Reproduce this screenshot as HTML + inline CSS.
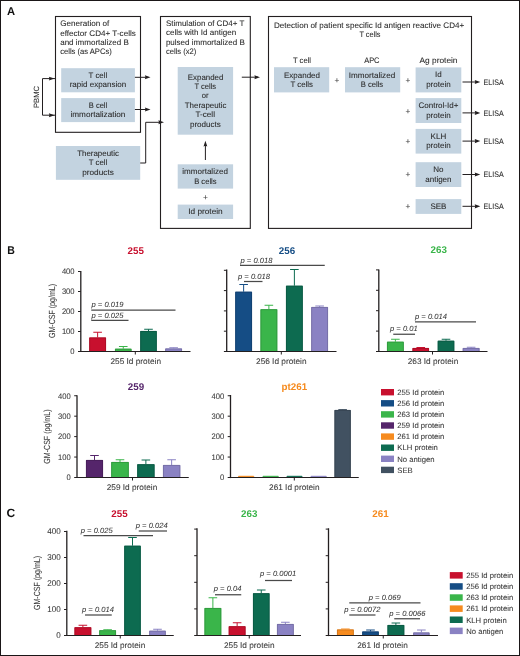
<!DOCTYPE html>
<html><head><meta charset="utf-8"><style>
html,body{margin:0;padding:0;background:#fff;}
body{width:520px;height:656px;overflow:hidden;}
.fig{position:absolute;left:0;top:0;width:518px;height:654px;border:1px solid #1a1617;}
svg{position:absolute;left:0;top:0;}
text{font-family:"Liberation Sans", sans-serif;}
svg{text-rendering:geometricPrecision;will-change:transform;}
</style></head><body>
<div class="fig"></div>
<svg width="520" height="656" viewBox="0 0 520 656" font-family='"Liberation Sans", sans-serif' fill='#2b2b2b'>
<text x="6.9" y="14.9" font-size="11.2" font-weight="bold" fill="#111">A</text>
<rect x="55.5" y="16.5" width="85.0" height="115.8" fill="none" stroke="#231f20" stroke-width="1.1"/>
<text x="60.2" y="26.4" font-size="8" stroke="#2b2b2b" stroke-width="0.08" textLength="49.0" lengthAdjust="spacingAndGlyphs">Generation of</text>
<text x="60.2" y="35.6" font-size="8" stroke="#2b2b2b" stroke-width="0.08" textLength="75.6" lengthAdjust="spacingAndGlyphs">effector CD4+ T-cells</text>
<text x="60.2" y="44.9" font-size="8" stroke="#2b2b2b" stroke-width="0.08" textLength="68.7" lengthAdjust="spacingAndGlyphs">and immortalized B</text>
<text x="60.2" y="54.1" font-size="8" stroke="#2b2b2b" stroke-width="0.08" textLength="51.6" lengthAdjust="spacingAndGlyphs">cells (as APCs)</text>
<rect x="61.2" y="68.2" width="73.7" height="24.1" fill="#c3d3e0"/>
<text x="88.6" y="78" font-size="8" stroke="#2b2b2b" stroke-width="0.08" textLength="18.6" lengthAdjust="spacingAndGlyphs">T cell</text>
<text x="69.7" y="87.2" font-size="8" stroke="#2b2b2b" stroke-width="0.08" textLength="56.5" lengthAdjust="spacingAndGlyphs">rapid expansion</text>
<rect x="61.2" y="98.1" width="73.7" height="24.0" fill="#c3d3e0"/>
<text x="88.8" y="108.2" font-size="8" stroke="#2b2b2b" stroke-width="0.08" textLength="18.4" lengthAdjust="spacingAndGlyphs">B cell</text>
<text x="70.5" y="117.2" font-size="8" stroke="#2b2b2b" stroke-width="0.08" textLength="54.9" lengthAdjust="spacingAndGlyphs">immortalization</text>
<line x1="134.9" y1="77.3" x2="147" y2="77.3" stroke="#231f20" stroke-width="1"/>
<path d="M150.5,77.3 L144.9,75.35 L145.5,77.3 L144.9,79.25 Z" fill="#231f20"/>
<line x1="134.9" y1="109.5" x2="147" y2="109.5" stroke="#231f20" stroke-width="1"/>
<path d="M150.5,109.5 L144.9,107.55 L145.5,109.5 L144.9,111.45 Z" fill="#231f20"/>
<path d="M55,78.6 L42.5,78.6 L42.5,115.2 L55,115.2" stroke="#231f20" stroke-width="1" fill="none"/>
<path d="M54.5,78.6 L48.9,76.65 L49.5,78.6 L48.9,80.55 Z" fill="#231f20"/>
<path d="M54.5,115.2 L48.9,113.25 L49.5,115.2 L48.9,117.15 Z" fill="#231f20"/>
<text x="0" y="0" font-size="7.6" text-anchor="middle" stroke="#2b2b2b" stroke-width="0.08" transform="translate(39.4,97) rotate(-90)" textLength="22" lengthAdjust="spacingAndGlyphs">PBMC</text>
<rect x="55.9" y="146" width="84.3" height="33.8" fill="#c3d3e0"/>
<text x="77.2" y="155.6" font-size="8" stroke="#2b2b2b" stroke-width="0.08" textLength="41.8" lengthAdjust="spacingAndGlyphs">Therapeutic</text>
<text x="88.7" y="165.1" font-size="8" stroke="#2b2b2b" stroke-width="0.08" textLength="18.6" lengthAdjust="spacingAndGlyphs">T cell</text>
<text x="82.2" y="174.6" font-size="8" stroke="#2b2b2b" stroke-width="0.08" textLength="31.6" lengthAdjust="spacingAndGlyphs">products</text>
<path d="M140.2,163 L145.7,163 L145.7,122.3 L161,122.3" stroke="#231f20" stroke-width="1" fill="none"/>
<path d="M164,122.3 L158.4,120.35 L159.0,122.3 L158.4,124.25 Z" fill="#231f20"/>
<rect x="160.5" y="16.5" width="89.8" height="211.9" fill="none" stroke="#231f20" stroke-width="1.1"/>
<text x="165.9" y="26.2" font-size="8" stroke="#2b2b2b" stroke-width="0.08" textLength="78.4" lengthAdjust="spacingAndGlyphs">Stimulation of CD4+ T</text>
<text x="165.9" y="35.4" font-size="8" stroke="#2b2b2b" stroke-width="0.08" textLength="70.3" lengthAdjust="spacingAndGlyphs">cells with Id antigen</text>
<text x="165.9" y="44.7" font-size="8" stroke="#2b2b2b" stroke-width="0.08" textLength="78.9" lengthAdjust="spacingAndGlyphs">pulsed immortalized B</text>
<text x="165.9" y="53.9" font-size="8" stroke="#2b2b2b" stroke-width="0.08" textLength="30.4" lengthAdjust="spacingAndGlyphs">cells (x2)</text>
<rect x="177.7" y="67" width="55.4" height="67.7" fill="#c3d3e0"/>
<text x="187.8" y="79.5" font-size="8" stroke="#2b2b2b" stroke-width="0.08" textLength="35.5" lengthAdjust="spacingAndGlyphs">Expanded</text>
<text x="194.4" y="89" font-size="8" stroke="#2b2b2b" stroke-width="0.08" textLength="21.7" lengthAdjust="spacingAndGlyphs">T cells</text>
<text x="201.8" y="98.3" font-size="8" stroke="#2b2b2b" stroke-width="0.08" textLength="6.8" lengthAdjust="spacingAndGlyphs">or</text>
<text x="184.8" y="107.9" font-size="8" stroke="#2b2b2b" stroke-width="0.08" textLength="41.7" lengthAdjust="spacingAndGlyphs">Therapeutic</text>
<text x="195.5" y="117.3" font-size="8" stroke="#2b2b2b" stroke-width="0.08" textLength="19.5" lengthAdjust="spacingAndGlyphs">T-cell</text>
<text x="189.9" y="126.8" font-size="8" stroke="#2b2b2b" stroke-width="0.08" textLength="31.0" lengthAdjust="spacingAndGlyphs">products</text>
<line x1="205.4" y1="160" x2="205.4" y2="145" stroke="#231f20" stroke-width="1"/>
<path d="M205.4,140.8 L203.5,146.4 L205.4,145.8 L207.3,146.4 Z" fill="#231f20"/>
<rect x="177.7" y="164.3" width="55.4" height="24.3" fill="#c3d3e0"/>
<text x="182.3" y="173.9" font-size="8" stroke="#2b2b2b" stroke-width="0.08" textLength="45.6" lengthAdjust="spacingAndGlyphs">immortalized</text>
<text x="194.2" y="183.5" font-size="8" stroke="#2b2b2b" stroke-width="0.08" textLength="22.4" lengthAdjust="spacingAndGlyphs">B cells</text>
<text x="205.4" y="199.5" font-size="8.3" text-anchor="middle" fill="#444" stroke="#444" stroke-width="0.08">+</text>
<rect x="177.7" y="204.6" width="55.4" height="14.4" fill="#c3d3e0"/>
<text x="188.2" y="213.8" font-size="8" stroke="#2b2b2b" stroke-width="0.08" textLength="34.5" lengthAdjust="spacingAndGlyphs">Id protein</text>
<line x1="241.8" y1="77.2" x2="258" y2="77.2" stroke="#231f20" stroke-width="1"/>
<path d="M260,77.2 L254.4,75.25 L255.0,77.2 L254.4,79.15 Z" fill="#231f20"/>
<rect x="268.5" y="16.5" width="203.0" height="211.9" fill="none" stroke="#231f20" stroke-width="1.1"/>
<text x="274" y="28" font-size="8" stroke="#2b2b2b" stroke-width="0.08" textLength="190.2" lengthAdjust="spacingAndGlyphs">Detection of patient specific Id antigen reactive CD4+</text>
<text x="359.4" y="37.3" font-size="8" stroke="#2b2b2b" stroke-width="0.08" textLength="21.1" lengthAdjust="spacingAndGlyphs">T cells</text>
<text x="293" y="62.5" font-size="8" stroke="#2b2b2b" stroke-width="0.08" textLength="18" lengthAdjust="spacingAndGlyphs">T cell</text>
<text x="364.2" y="62.7" font-size="8" stroke="#2b2b2b" stroke-width="0.08" textLength="15.3" lengthAdjust="spacingAndGlyphs">APC</text>
<text x="419.5" y="62.7" font-size="8" stroke="#2b2b2b" stroke-width="0.08" textLength="38.0" lengthAdjust="spacingAndGlyphs">Ag protein</text>
<rect x="274" y="67.2" width="55.2" height="25.2" fill="#c3d3e0"/>
<text x="284" y="77.7" font-size="8" stroke="#2b2b2b" stroke-width="0.08" textLength="36" lengthAdjust="spacingAndGlyphs">Expanded</text>
<text x="290.4" y="87.2" font-size="8" stroke="#2b2b2b" stroke-width="0.08" textLength="22.6" lengthAdjust="spacingAndGlyphs">T cells</text>
<text x="337" y="82.8" font-size="8.3" text-anchor="middle" fill="#444" stroke="#444" stroke-width="0.08">+</text>
<rect x="345" y="67.2" width="55.2" height="25.2" fill="#c3d3e0"/>
<text x="348.7" y="77.8" font-size="8" stroke="#2b2b2b" stroke-width="0.08" textLength="46.5" lengthAdjust="spacingAndGlyphs">Immortalized</text>
<text x="360.7" y="86.9" font-size="8" stroke="#2b2b2b" stroke-width="0.08" textLength="22.5" lengthAdjust="spacingAndGlyphs">B cells</text>
<rect x="415.6" y="67.4" width="45.7" height="25.0" fill="#c3d3e0"/>
<text x="438.4" y="77.3" font-size="8" text-anchor="middle" stroke="#2b2b2b" stroke-width="0.08">Id</text>
<text x="438.4" y="87.1" font-size="8" text-anchor="middle" stroke="#2b2b2b" stroke-width="0.08">protein</text>
<text x="408" y="82.80000000000001" font-size="8.3" text-anchor="middle" fill="#444" stroke="#444" stroke-width="0.08">+</text>
<line x1="462.5" y1="82.0" x2="477" y2="82.0" stroke="#231f20" stroke-width="1"/>
<path d="M480.3,82.0 L474.7,79.9 L475.3,82.0 L474.7,84.1 Z" fill="#231f20"/>
<text x="483.6" y="84.7" font-size="8" stroke="#2b2b2b" stroke-width="0.08" textLength="20.1" lengthAdjust="spacingAndGlyphs">ELISA</text>
<rect x="415.6" y="98.1" width="45.7" height="24.9" fill="#c3d3e0"/>
<text x="438.4" y="107.8" font-size="8" text-anchor="middle" stroke="#2b2b2b" stroke-width="0.08">Control-Id+</text>
<text x="438.4" y="117.5" font-size="8" text-anchor="middle" stroke="#2b2b2b" stroke-width="0.08">protein</text>
<text x="408" y="113.7" font-size="8.3" text-anchor="middle" fill="#444" stroke="#444" stroke-width="0.08">+</text>
<line x1="462.5" y1="112.9" x2="477" y2="112.9" stroke="#231f20" stroke-width="1"/>
<path d="M480.3,112.9 L474.7,110.8 L475.3,112.9 L474.7,115.0 Z" fill="#231f20"/>
<text x="483.6" y="115.60000000000001" font-size="8" stroke="#2b2b2b" stroke-width="0.08" textLength="20.1" lengthAdjust="spacingAndGlyphs">ELISA</text>
<rect x="415.6" y="128.9" width="45.7" height="24.7" fill="#c3d3e0"/>
<text x="438.4" y="138.7" font-size="8" text-anchor="middle" stroke="#2b2b2b" stroke-width="0.08">KLH</text>
<text x="438.4" y="148.3" font-size="8" text-anchor="middle" stroke="#2b2b2b" stroke-width="0.08">protein</text>
<text x="408" y="144.0" font-size="8.3" text-anchor="middle" fill="#444" stroke="#444" stroke-width="0.08">+</text>
<line x1="462.5" y1="141.1" x2="477" y2="141.1" stroke="#231f20" stroke-width="1"/>
<path d="M480.3,141.1 L474.7,139.0 L475.3,141.1 L474.7,143.2 Z" fill="#231f20"/>
<text x="483.6" y="143.79999999999998" font-size="8" stroke="#2b2b2b" stroke-width="0.08" textLength="20.1" lengthAdjust="spacingAndGlyphs">ELISA</text>
<rect x="415.6" y="162.2" width="45.7" height="24.8" fill="#c3d3e0"/>
<text x="438.4" y="172.0" font-size="8" text-anchor="middle" stroke="#2b2b2b" stroke-width="0.08">No</text>
<text x="438.4" y="181.5" font-size="8" text-anchor="middle" stroke="#2b2b2b" stroke-width="0.08">antigen</text>
<text x="408" y="177.4" font-size="8.3" text-anchor="middle" fill="#444" stroke="#444" stroke-width="0.08">+</text>
<line x1="462.5" y1="174.5" x2="477" y2="174.5" stroke="#231f20" stroke-width="1"/>
<path d="M480.3,174.5 L474.7,172.4 L475.3,174.5 L474.7,176.6 Z" fill="#231f20"/>
<text x="483.6" y="177.2" font-size="8" stroke="#2b2b2b" stroke-width="0.08" textLength="20.1" lengthAdjust="spacingAndGlyphs">ELISA</text>
<rect x="415.6" y="199.1" width="45.7" height="14.8" fill="#c3d3e0"/>
<text x="438.4" y="209.0" font-size="8" text-anchor="middle" stroke="#2b2b2b" stroke-width="0.08">SEB</text>
<text x="408" y="209.20000000000002" font-size="8.3" text-anchor="middle" fill="#444" stroke="#444" stroke-width="0.08">+</text>
<line x1="462.5" y1="206.3" x2="477" y2="206.3" stroke="#231f20" stroke-width="1"/>
<path d="M480.3,206.3 L474.7,204.2 L475.3,206.3 L474.7,208.4 Z" fill="#231f20"/>
<text x="483.6" y="209.0" font-size="8" stroke="#2b2b2b" stroke-width="0.08" textLength="20.1" lengthAdjust="spacingAndGlyphs">ELISA</text>
<text x="7.2" y="253.6" font-size="11.3" font-weight="bold" fill="#111" textLength="7.6" lengthAdjust="spacingAndGlyphs">B</text>
<rect x="89.25" y="337.5" width="16.75" height="14.0" fill="#c8102e"/>
<path d="M89.65,351.5 V337.9 H105.6 V351.5" fill="none" stroke="#a40d25" stroke-width="0.8"/>
<line x1="97.625" y1="332.25" x2="97.625" y2="337.5" stroke="#c8102e" stroke-width="1"/>
<line x1="93.325" y1="332.25" x2="101.925" y2="332.25" stroke="#c8102e" stroke-width="1"/>
<rect x="115" y="348.75" width="16.5" height="2.75" fill="#3ab54a"/>
<path d="M115.4,351.5 V349.15 H131.1 V351.5" fill="none" stroke="#2f943c" stroke-width="0.8"/>
<line x1="123.25" y1="346.5" x2="123.25" y2="348.75" stroke="#3ab54a" stroke-width="1"/>
<line x1="118.95" y1="346.5" x2="127.55" y2="346.5" stroke="#3ab54a" stroke-width="1"/>
<rect x="140.25" y="331" width="16.5" height="20.5" fill="#0d6b50"/>
<path d="M140.65,351.5 V331.4 H156.35 V351.5" fill="none" stroke="#0a5741" stroke-width="0.8"/>
<line x1="148.5" y1="329.25" x2="148.5" y2="331" stroke="#0d6b50" stroke-width="1"/>
<line x1="144.2" y1="329.25" x2="152.8" y2="329.25" stroke="#0d6b50" stroke-width="1"/>
<rect x="165.25" y="348.5" width="16.75" height="3.0" fill="#8a82c3"/>
<path d="M165.65,351.5 V348.9 H181.6 V351.5" fill="none" stroke="#716a9f" stroke-width="0.8"/>
<line x1="173.625" y1="347.75" x2="173.625" y2="348.5" stroke="#8a82c3" stroke-width="1"/>
<line x1="169.325" y1="347.75" x2="177.925" y2="347.75" stroke="#8a82c3" stroke-width="1"/>
<line x1="80.8" y1="271.0" x2="80.8" y2="352.1" stroke="#231f20" stroke-width="1.3"/>
<line x1="80.2" y1="351.5" x2="190.5" y2="351.5" stroke="#231f20" stroke-width="1.2"/>
<line x1="78.0" y1="351.5" x2="80.8" y2="351.5" stroke="#231f20" stroke-width="1"/>
<text x="70.37" y="354.3" font-size="8.0" fill="#3a3a3a" stroke="#3a3a3a" stroke-width="0.08" textLength="4.23" lengthAdjust="spacingAndGlyphs">0</text>
<line x1="78.0" y1="331.5" x2="80.8" y2="331.5" stroke="#231f20" stroke-width="1"/>
<text x="61.9" y="334.3" font-size="8.0" fill="#3a3a3a" stroke="#3a3a3a" stroke-width="0.08" textLength="12.7" lengthAdjust="spacingAndGlyphs">100</text>
<line x1="78.0" y1="311.5" x2="80.8" y2="311.5" stroke="#231f20" stroke-width="1"/>
<text x="61.9" y="314.3" font-size="8.0" fill="#3a3a3a" stroke="#3a3a3a" stroke-width="0.08" textLength="12.7" lengthAdjust="spacingAndGlyphs">200</text>
<line x1="78.0" y1="291.5" x2="80.8" y2="291.5" stroke="#231f20" stroke-width="1"/>
<text x="61.9" y="294.3" font-size="8.0" fill="#3a3a3a" stroke="#3a3a3a" stroke-width="0.08" textLength="12.7" lengthAdjust="spacingAndGlyphs">300</text>
<line x1="78.0" y1="271.5" x2="80.8" y2="271.5" stroke="#231f20" stroke-width="1"/>
<text x="61.9" y="274.3" font-size="8.0" fill="#3a3a3a" stroke="#3a3a3a" stroke-width="0.08" textLength="12.7" lengthAdjust="spacingAndGlyphs">400</text>
<line x1="135.3" y1="351.5" x2="135.3" y2="354.5" stroke="#231f20" stroke-width="1"/>
<text x="135.8" y="253.5" font-size="9.8" text-anchor="middle" font-weight="bold" fill="#c8102e">255</text>
<text x="135.75" y="363.9" font-size="8.2" text-anchor="middle" fill="#3a3a3a" stroke="#3a3a3a" stroke-width="0.08" textLength="50.5" lengthAdjust="spacingAndGlyphs">255 Id protein</text>
<line x1="91.25" y1="310" x2="175.5" y2="310" stroke="#4a4a4a" stroke-width="1.25"/>
<text x="91.5" y="307" font-size="7.6" font-style="italic" fill="#333" stroke="#333" stroke-width="0.05">p = 0.019</text>
<line x1="91.25" y1="320.25" x2="128.5" y2="320.25" stroke="#4a4a4a" stroke-width="1.25"/>
<text x="91.5" y="317.5" font-size="7.6" font-style="italic" fill="#333" stroke="#333" stroke-width="0.05">p = 0.025</text>
<text x="0" y="0" font-size="8.8" text-anchor="middle" fill="#3a3a3a" stroke="#3a3a3a" stroke-width="0.08" transform="translate(54.5,311) rotate(-90)" textLength="54.2" lengthAdjust="spacingAndGlyphs">GM-CSF (pg/mL)</text>
<rect x="235.25" y="291.75" width="16.75" height="59.75" fill="#154d85"/>
<path d="M235.65,351.5 V292.15 H251.6 V351.5" fill="none" stroke="#113f6d" stroke-width="0.8"/>
<line x1="243.625" y1="284.5" x2="243.625" y2="291.75" stroke="#154d85" stroke-width="1"/>
<line x1="239.325" y1="284.5" x2="247.925" y2="284.5" stroke="#154d85" stroke-width="1"/>
<rect x="260.5" y="309.25" width="16.75" height="42.25" fill="#3ab54a"/>
<path d="M260.9,351.5 V309.65 H276.85 V351.5" fill="none" stroke="#2f943c" stroke-width="0.8"/>
<line x1="268.875" y1="305.25" x2="268.875" y2="309.25" stroke="#3ab54a" stroke-width="1"/>
<line x1="264.575" y1="305.25" x2="273.175" y2="305.25" stroke="#3ab54a" stroke-width="1"/>
<rect x="286" y="285.75" width="16.75" height="65.75" fill="#0d6b50"/>
<path d="M286.4,351.5 V286.15 H302.35 V351.5" fill="none" stroke="#0a5741" stroke-width="0.8"/>
<line x1="294.375" y1="269.5" x2="294.375" y2="285.75" stroke="#0d6b50" stroke-width="1"/>
<line x1="290.075" y1="269.5" x2="298.675" y2="269.5" stroke="#0d6b50" stroke-width="1"/>
<rect x="311.25" y="307" width="16.75" height="44.5" fill="#8a82c3"/>
<path d="M311.65,351.5 V307.4 H327.6 V351.5" fill="none" stroke="#716a9f" stroke-width="0.8"/>
<line x1="319.625" y1="306" x2="319.625" y2="307" stroke="#8a82c3" stroke-width="1"/>
<line x1="315.325" y1="306" x2="323.925" y2="306" stroke="#8a82c3" stroke-width="1"/>
<line x1="226.7" y1="269.5" x2="226.7" y2="352.1" stroke="#231f20" stroke-width="1.3"/>
<line x1="226.1" y1="351.5" x2="336.5" y2="351.5" stroke="#231f20" stroke-width="1.2"/>
<line x1="223.89999999999998" y1="351.5" x2="226.7" y2="351.5" stroke="#231f20" stroke-width="1"/>
<line x1="223.89999999999998" y1="331.2" x2="226.7" y2="331.2" stroke="#231f20" stroke-width="1"/>
<line x1="223.89999999999998" y1="310.9" x2="226.7" y2="310.9" stroke="#231f20" stroke-width="1"/>
<line x1="223.89999999999998" y1="290.6" x2="226.7" y2="290.6" stroke="#231f20" stroke-width="1"/>
<line x1="223.89999999999998" y1="270.3" x2="226.7" y2="270.3" stroke="#231f20" stroke-width="1"/>
<line x1="281.3" y1="351.5" x2="281.3" y2="354.5" stroke="#231f20" stroke-width="1"/>
<text x="287" y="253.5" font-size="9.8" text-anchor="middle" font-weight="bold" fill="#154d85">256</text>
<text x="281.3" y="364.3" font-size="8.2" text-anchor="middle" fill="#3a3a3a" stroke="#3a3a3a" stroke-width="0.08" textLength="50.5" lengthAdjust="spacingAndGlyphs">256 Id protein</text>
<line x1="240" y1="265.25" x2="324.75" y2="265.25" stroke="#4a4a4a" stroke-width="1.25"/>
<text x="240.5" y="262.5" font-size="7.6" font-style="italic" fill="#333" stroke="#333" stroke-width="0.05">p = 0.018</text>
<line x1="244" y1="281.5" x2="262.5" y2="281.5" stroke="#4a4a4a" stroke-width="1.25"/>
<text x="238" y="279" font-size="7.6" font-style="italic" fill="#333" stroke="#333" stroke-width="0.05">p = 0.018</text>
<rect x="387" y="341.75" width="16.75" height="9.75" fill="#3ab54a"/>
<path d="M387.4,351.5 V342.15 H403.35 V351.5" fill="none" stroke="#2f943c" stroke-width="0.8"/>
<line x1="395.375" y1="339.25" x2="395.375" y2="341.75" stroke="#3ab54a" stroke-width="1"/>
<line x1="391.075" y1="339.25" x2="399.675" y2="339.25" stroke="#3ab54a" stroke-width="1"/>
<rect x="412.5" y="348" width="16.5" height="3.5" fill="#c8102e"/>
<path d="M412.9,351.5 V348.4 H428.6 V351.5" fill="none" stroke="#a40d25" stroke-width="0.8"/>
<line x1="420.75" y1="347.5" x2="420.75" y2="348" stroke="#c8102e" stroke-width="1"/>
<line x1="416.45" y1="347.5" x2="425.05" y2="347.5" stroke="#c8102e" stroke-width="1"/>
<rect x="437.75" y="340.75" width="16.5" height="10.75" fill="#0d6b50"/>
<path d="M438.15,351.5 V341.15 H453.85 V351.5" fill="none" stroke="#0a5741" stroke-width="0.8"/>
<line x1="446.0" y1="339.25" x2="446.0" y2="340.75" stroke="#0d6b50" stroke-width="1"/>
<line x1="441.7" y1="339.25" x2="450.3" y2="339.25" stroke="#0d6b50" stroke-width="1"/>
<rect x="462.75" y="348" width="16.75" height="3.5" fill="#8a82c3"/>
<path d="M463.15,351.5 V348.4 H479.1 V351.5" fill="none" stroke="#716a9f" stroke-width="0.8"/>
<line x1="471.125" y1="347.25" x2="471.125" y2="348" stroke="#8a82c3" stroke-width="1"/>
<line x1="466.825" y1="347.25" x2="475.425" y2="347.25" stroke="#8a82c3" stroke-width="1"/>
<line x1="378.8" y1="269.5" x2="378.8" y2="352.1" stroke="#231f20" stroke-width="1.3"/>
<line x1="378.2" y1="351.5" x2="487.5" y2="351.5" stroke="#231f20" stroke-width="1.2"/>
<line x1="376.0" y1="351.5" x2="378.8" y2="351.5" stroke="#231f20" stroke-width="1"/>
<line x1="376.0" y1="331.1" x2="378.8" y2="331.1" stroke="#231f20" stroke-width="1"/>
<line x1="376.0" y1="310.7" x2="378.8" y2="310.7" stroke="#231f20" stroke-width="1"/>
<line x1="376.0" y1="290.3" x2="378.8" y2="290.3" stroke="#231f20" stroke-width="1"/>
<line x1="376.0" y1="269.9" x2="378.8" y2="269.9" stroke="#231f20" stroke-width="1"/>
<line x1="432.5" y1="351.5" x2="432.5" y2="354.5" stroke="#231f20" stroke-width="1"/>
<text x="438.75" y="253" font-size="9.8" text-anchor="middle" font-weight="bold" fill="#3ab54a">263</text>
<text x="433" y="364.3" font-size="8.2" text-anchor="middle" fill="#3a3a3a" stroke="#3a3a3a" stroke-width="0.08" textLength="50.5" lengthAdjust="spacingAndGlyphs">263 Id protein</text>
<line x1="415" y1="321.75" x2="476" y2="321.75" stroke="#4a4a4a" stroke-width="1.25"/>
<text x="415" y="318.75" font-size="7.6" font-style="italic" fill="#333" stroke="#333" stroke-width="0.05">p = 0.014</text>
<line x1="393.25" y1="334.25" x2="415" y2="334.25" stroke="#4a4a4a" stroke-width="1.25"/>
<text x="390" y="331.25" font-size="7.6" font-style="italic" fill="#333" stroke="#333" stroke-width="0.05">p = 0.01</text>
<rect x="86" y="460" width="17" height="17.5" fill="#55256b"/>
<path d="M86.4,477.5 V460.4 H102.6 V477.5" fill="none" stroke="#451e57" stroke-width="0.8"/>
<line x1="94.5" y1="455.5" x2="94.5" y2="460" stroke="#55256b" stroke-width="1"/>
<line x1="90.2" y1="455.5" x2="98.8" y2="455.5" stroke="#55256b" stroke-width="1"/>
<rect x="111.25" y="462" width="17.5" height="15.5" fill="#3ab54a"/>
<path d="M111.65,477.5 V462.4 H128.35 V477.5" fill="none" stroke="#2f943c" stroke-width="0.8"/>
<line x1="120.0" y1="459.75" x2="120.0" y2="462" stroke="#3ab54a" stroke-width="1"/>
<line x1="115.7" y1="459.75" x2="124.3" y2="459.75" stroke="#3ab54a" stroke-width="1"/>
<rect x="137.25" y="464.25" width="17.25" height="13.25" fill="#0d6b50"/>
<path d="M137.65,477.5 V464.65 H154.1 V477.5" fill="none" stroke="#0a5741" stroke-width="0.8"/>
<line x1="145.875" y1="460" x2="145.875" y2="464.25" stroke="#0d6b50" stroke-width="1"/>
<line x1="141.575" y1="460" x2="150.175" y2="460" stroke="#0d6b50" stroke-width="1"/>
<rect x="163" y="465" width="17.25" height="12.5" fill="#8a82c3"/>
<path d="M163.4,477.5 V465.4 H179.85 V477.5" fill="none" stroke="#716a9f" stroke-width="0.8"/>
<line x1="171.625" y1="459.75" x2="171.625" y2="465" stroke="#8a82c3" stroke-width="1"/>
<line x1="167.325" y1="459.75" x2="175.925" y2="459.75" stroke="#8a82c3" stroke-width="1"/>
<line x1="77.0" y1="395.25" x2="77.0" y2="478.1" stroke="#231f20" stroke-width="1.3"/>
<line x1="76.4" y1="477.5" x2="188.75" y2="477.5" stroke="#231f20" stroke-width="1.2"/>
<line x1="74.2" y1="477.5" x2="77.0" y2="477.5" stroke="#231f20" stroke-width="1"/>
<text x="66.57" y="480.3" font-size="8.0" fill="#3a3a3a" stroke="#3a3a3a" stroke-width="0.08" textLength="4.23" lengthAdjust="spacingAndGlyphs">0</text>
<line x1="74.2" y1="457.06" x2="77.0" y2="457.06" stroke="#231f20" stroke-width="1"/>
<text x="58.1" y="459.86" font-size="8.0" fill="#3a3a3a" stroke="#3a3a3a" stroke-width="0.08" textLength="12.7" lengthAdjust="spacingAndGlyphs">100</text>
<line x1="74.2" y1="436.62" x2="77.0" y2="436.62" stroke="#231f20" stroke-width="1"/>
<text x="58.1" y="439.42" font-size="8.0" fill="#3a3a3a" stroke="#3a3a3a" stroke-width="0.08" textLength="12.7" lengthAdjust="spacingAndGlyphs">200</text>
<line x1="74.2" y1="416.18" x2="77.0" y2="416.18" stroke="#231f20" stroke-width="1"/>
<text x="58.1" y="418.98" font-size="8.0" fill="#3a3a3a" stroke="#3a3a3a" stroke-width="0.08" textLength="12.7" lengthAdjust="spacingAndGlyphs">300</text>
<line x1="74.2" y1="395.74" x2="77.0" y2="395.74" stroke="#231f20" stroke-width="1"/>
<text x="58.1" y="398.54" font-size="8.0" fill="#3a3a3a" stroke="#3a3a3a" stroke-width="0.08" textLength="12.7" lengthAdjust="spacingAndGlyphs">400</text>
<line x1="132.5" y1="477.5" x2="132.5" y2="480.5" stroke="#231f20" stroke-width="1"/>
<text x="136" y="390.1" font-size="9.8" text-anchor="middle" font-weight="bold" fill="#55256b">259</text>
<text x="132" y="490" font-size="8.2" text-anchor="middle" fill="#3a3a3a" stroke="#3a3a3a" stroke-width="0.08" textLength="50.5" lengthAdjust="spacingAndGlyphs">259 Id protein</text>
<text x="0" y="0" font-size="8.8" text-anchor="middle" fill="#3a3a3a" stroke="#3a3a3a" stroke-width="0.08" transform="translate(50.2,436.6) rotate(-90)" textLength="54.2" lengthAdjust="spacingAndGlyphs">GM-CSF (pg/mL)</text>
<rect x="238" y="476.3" width="16.25" height="1.2" fill="#f68b1f"/>
<line x1="238.5" y1="476.3" x2="253.75" y2="476.3" stroke="#f68b1f" stroke-width="1"/>
<rect x="262.5" y="476.3" width="16.25" height="1.2" fill="#3ab54a"/>
<line x1="263.0" y1="476.3" x2="278.25" y2="476.3" stroke="#3ab54a" stroke-width="1"/>
<rect x="286.5" y="476.3" width="16.0" height="1.2" fill="#0d6b50"/>
<line x1="287.0" y1="476.3" x2="302.0" y2="476.3" stroke="#0d6b50" stroke-width="1"/>
<rect x="310.5" y="476.3" width="16.25" height="1.2" fill="#8a82c3"/>
<line x1="311.0" y1="476.3" x2="326.25" y2="476.3" stroke="#8a82c3" stroke-width="1"/>
<rect x="334.5" y="410" width="16.25" height="67.5" fill="#415161"/>
<path d="M334.9,477.5 V410.4 H350.35 V477.5" fill="none" stroke="#35424f" stroke-width="0.8"/>
<line x1="342.625" y1="409.6" x2="342.625" y2="410" stroke="#415161" stroke-width="1"/>
<line x1="338.325" y1="409.6" x2="346.925" y2="409.6" stroke="#415161" stroke-width="1"/>
<line x1="230.5" y1="395.0" x2="230.5" y2="478.1" stroke="#231f20" stroke-width="1.3"/>
<line x1="229.9" y1="477.5" x2="358.75" y2="477.5" stroke="#231f20" stroke-width="1.2"/>
<line x1="227.7" y1="477.5" x2="230.5" y2="477.5" stroke="#231f20" stroke-width="1"/>
<text x="220.07" y="480.3" font-size="8.0" fill="#3a3a3a" stroke="#3a3a3a" stroke-width="0.08" textLength="4.23" lengthAdjust="spacingAndGlyphs">0</text>
<line x1="227.7" y1="457.06" x2="230.5" y2="457.06" stroke="#231f20" stroke-width="1"/>
<text x="211.6" y="459.86" font-size="8.0" fill="#3a3a3a" stroke="#3a3a3a" stroke-width="0.08" textLength="12.7" lengthAdjust="spacingAndGlyphs">100</text>
<line x1="227.7" y1="436.62" x2="230.5" y2="436.62" stroke="#231f20" stroke-width="1"/>
<text x="211.6" y="439.42" font-size="8.0" fill="#3a3a3a" stroke="#3a3a3a" stroke-width="0.08" textLength="12.7" lengthAdjust="spacingAndGlyphs">200</text>
<line x1="227.7" y1="416.18" x2="230.5" y2="416.18" stroke="#231f20" stroke-width="1"/>
<text x="211.6" y="418.98" font-size="8.0" fill="#3a3a3a" stroke="#3a3a3a" stroke-width="0.08" textLength="12.7" lengthAdjust="spacingAndGlyphs">300</text>
<line x1="227.7" y1="395.74" x2="230.5" y2="395.74" stroke="#231f20" stroke-width="1"/>
<text x="211.6" y="398.54" font-size="8.0" fill="#3a3a3a" stroke="#3a3a3a" stroke-width="0.08" textLength="12.7" lengthAdjust="spacingAndGlyphs">400</text>
<line x1="294.3" y1="477.5" x2="294.3" y2="480.5" stroke="#231f20" stroke-width="1"/>
<text x="294.3" y="389.9" font-size="9.8" text-anchor="middle" font-weight="bold" fill="#f68b1f">pt261</text>
<text x="294.3" y="490" font-size="8.2" text-anchor="middle" fill="#3a3a3a" stroke="#3a3a3a" stroke-width="0.08" textLength="50.5" lengthAdjust="spacingAndGlyphs">261 Id protein</text>
<rect x="381" y="389.0" width="13" height="6.4" fill="#c8102e"/>
<text x="397.3" y="394.9" font-size="7.7" fill="#3a3a3a" stroke="#3a3a3a" stroke-width="0.08">255 Id protein</text>
<rect x="381" y="400.1" width="13" height="6.4" fill="#154d85"/>
<text x="397.3" y="406.0" font-size="7.7" fill="#3a3a3a" stroke="#3a3a3a" stroke-width="0.08">256 Id protein</text>
<rect x="381" y="411.2" width="13" height="6.4" fill="#3ab54a"/>
<text x="397.3" y="417.1" font-size="7.7" fill="#3a3a3a" stroke="#3a3a3a" stroke-width="0.08">263 Id protein</text>
<rect x="381" y="422.3" width="13" height="6.4" fill="#55256b"/>
<text x="397.3" y="428.2" font-size="7.7" fill="#3a3a3a" stroke="#3a3a3a" stroke-width="0.08">259 Id protein</text>
<rect x="381" y="433.4" width="13" height="6.4" fill="#f68b1f"/>
<text x="397.3" y="439.3" font-size="7.7" fill="#3a3a3a" stroke="#3a3a3a" stroke-width="0.08">261 Id protein</text>
<rect x="381" y="444.5" width="13" height="6.4" fill="#0d6b50"/>
<text x="397.3" y="450.4" font-size="7.7" fill="#3a3a3a" stroke="#3a3a3a" stroke-width="0.08">KLH protein</text>
<rect x="381" y="455.6" width="13" height="6.4" fill="#8a82c3"/>
<text x="397.3" y="461.5" font-size="7.7" fill="#3a3a3a" stroke="#3a3a3a" stroke-width="0.08">No antigen</text>
<rect x="381" y="466.7" width="13" height="6.4" fill="#415161"/>
<text x="397.3" y="472.6" font-size="7.7" fill="#3a3a3a" stroke="#3a3a3a" stroke-width="0.08">SEB</text>
<text x="6.5" y="517.4" font-size="12" font-weight="bold" fill="#111">C</text>
<rect x="74.5" y="627.25" width="16.75" height="8.25" fill="#c8102e"/>
<path d="M74.9,635.5 V627.65 H90.85 V635.5" fill="none" stroke="#a40d25" stroke-width="0.8"/>
<line x1="82.875" y1="625.25" x2="82.875" y2="627.25" stroke="#c8102e" stroke-width="1"/>
<line x1="78.575" y1="625.25" x2="87.175" y2="625.25" stroke="#c8102e" stroke-width="1"/>
<rect x="99.25" y="630.25" width="16.75" height="5.25" fill="#3ab54a"/>
<path d="M99.65,635.5 V630.65 H115.6 V635.5" fill="none" stroke="#2f943c" stroke-width="0.8"/>
<line x1="107.625" y1="629.75" x2="107.625" y2="630.25" stroke="#3ab54a" stroke-width="1"/>
<line x1="103.325" y1="629.75" x2="111.925" y2="629.75" stroke="#3ab54a" stroke-width="1"/>
<rect x="124.25" y="545.75" width="16.5" height="89.75" fill="#0d6b50"/>
<path d="M124.65,635.5 V546.15 H140.35 V635.5" fill="none" stroke="#0a5741" stroke-width="0.8"/>
<line x1="132.5" y1="537.5" x2="132.5" y2="545.75" stroke="#0d6b50" stroke-width="1"/>
<line x1="128.2" y1="537.5" x2="136.8" y2="537.5" stroke="#0d6b50" stroke-width="1"/>
<rect x="149.25" y="630.75" width="16.5" height="4.75" fill="#8a82c3"/>
<path d="M149.65,635.5 V631.15 H165.35 V635.5" fill="none" stroke="#716a9f" stroke-width="0.8"/>
<line x1="157.5" y1="629.25" x2="157.5" y2="630.75" stroke="#8a82c3" stroke-width="1"/>
<line x1="153.2" y1="629.25" x2="161.8" y2="629.25" stroke="#8a82c3" stroke-width="1"/>
<line x1="66.8" y1="530.75" x2="66.8" y2="636.1" stroke="#231f20" stroke-width="1.3"/>
<line x1="66.2" y1="635.5" x2="173.75" y2="635.5" stroke="#231f20" stroke-width="1.2"/>
<line x1="64.0" y1="635.5" x2="66.8" y2="635.5" stroke="#231f20" stroke-width="1"/>
<text x="56.3" y="638.3" font-size="8.4" fill="#3a3a3a" stroke="#3a3a3a" stroke-width="0.08" textLength="4.5" lengthAdjust="spacingAndGlyphs">0</text>
<line x1="64.0" y1="609.5" x2="66.8" y2="609.5" stroke="#231f20" stroke-width="1"/>
<text x="47.3" y="612.3" font-size="8.4" fill="#3a3a3a" stroke="#3a3a3a" stroke-width="0.08" textLength="13.5" lengthAdjust="spacingAndGlyphs">100</text>
<line x1="64.0" y1="583.5" x2="66.8" y2="583.5" stroke="#231f20" stroke-width="1"/>
<text x="47.3" y="586.3" font-size="8.4" fill="#3a3a3a" stroke="#3a3a3a" stroke-width="0.08" textLength="13.5" lengthAdjust="spacingAndGlyphs">200</text>
<line x1="64.0" y1="557.5" x2="66.8" y2="557.5" stroke="#231f20" stroke-width="1"/>
<text x="47.3" y="560.3" font-size="8.4" fill="#3a3a3a" stroke="#3a3a3a" stroke-width="0.08" textLength="13.5" lengthAdjust="spacingAndGlyphs">300</text>
<line x1="64.0" y1="531.5" x2="66.8" y2="531.5" stroke="#231f20" stroke-width="1"/>
<text x="47.3" y="534.3" font-size="8.4" fill="#3a3a3a" stroke="#3a3a3a" stroke-width="0.08" textLength="13.5" lengthAdjust="spacingAndGlyphs">400</text>
<line x1="120.25" y1="635.5" x2="120.25" y2="638.5" stroke="#231f20" stroke-width="1"/>
<text x="119.5" y="517" font-size="9.8" text-anchor="middle" font-weight="bold" fill="#c8102e">255</text>
<text x="120" y="647.5" font-size="8.2" text-anchor="middle" fill="#3a3a3a" stroke="#3a3a3a" stroke-width="0.08" textLength="50.5" lengthAdjust="spacingAndGlyphs">255 Id protein</text>
<line x1="83.5" y1="535.5" x2="153" y2="535.5" stroke="#4a4a4a" stroke-width="1.25"/>
<text x="80.75" y="532.5" font-size="7.6" font-style="italic" fill="#333" stroke="#333" stroke-width="0.05">p = 0.025</text>
<line x1="138.75" y1="531" x2="167" y2="531" stroke="#4a4a4a" stroke-width="1.25"/>
<text x="135.75" y="527.5" font-size="7.6" font-style="italic" fill="#333" stroke="#333" stroke-width="0.05">p = 0.024</text>
<line x1="85" y1="615" x2="111.75" y2="615" stroke="#4a4a4a" stroke-width="1.25"/>
<text x="82" y="611.5" font-size="7.6" font-style="italic" fill="#333" stroke="#333" stroke-width="0.05">p = 0.014</text>
<text x="0" y="0" font-size="8.8" text-anchor="middle" fill="#3a3a3a" stroke="#3a3a3a" stroke-width="0.08" transform="translate(40.2,583) rotate(-90)" textLength="54.2" lengthAdjust="spacingAndGlyphs">GM-CSF (pg/mL)</text>
<rect x="204.5" y="608" width="16.75" height="27.5" fill="#3ab54a"/>
<path d="M204.9,635.5 V608.4 H220.85 V635.5" fill="none" stroke="#2f943c" stroke-width="0.8"/>
<line x1="212.875" y1="597.75" x2="212.875" y2="608" stroke="#3ab54a" stroke-width="1"/>
<line x1="208.575" y1="597.75" x2="217.175" y2="597.75" stroke="#3ab54a" stroke-width="1"/>
<rect x="228.75" y="626.25" width="16.75" height="9.25" fill="#c8102e"/>
<path d="M229.15,635.5 V626.65 H245.1 V635.5" fill="none" stroke="#a40d25" stroke-width="0.8"/>
<line x1="237.125" y1="622.75" x2="237.125" y2="626.25" stroke="#c8102e" stroke-width="1"/>
<line x1="232.825" y1="622.75" x2="241.425" y2="622.75" stroke="#c8102e" stroke-width="1"/>
<rect x="253" y="593.25" width="16.5" height="42.25" fill="#0d6b50"/>
<path d="M253.4,635.5 V593.65 H269.1 V635.5" fill="none" stroke="#0a5741" stroke-width="0.8"/>
<line x1="261.25" y1="590" x2="261.25" y2="593.25" stroke="#0d6b50" stroke-width="1"/>
<line x1="256.95" y1="590" x2="265.55" y2="590" stroke="#0d6b50" stroke-width="1"/>
<rect x="277" y="624" width="16.75" height="11.5" fill="#8a82c3"/>
<path d="M277.4,635.5 V624.4 H293.35 V635.5" fill="none" stroke="#716a9f" stroke-width="0.8"/>
<line x1="285.375" y1="622.25" x2="285.375" y2="624" stroke="#8a82c3" stroke-width="1"/>
<line x1="281.075" y1="622.25" x2="289.675" y2="622.25" stroke="#8a82c3" stroke-width="1"/>
<line x1="197.0" y1="528.25" x2="197.0" y2="636.1" stroke="#231f20" stroke-width="1.3"/>
<line x1="196.4" y1="635.5" x2="301" y2="635.5" stroke="#231f20" stroke-width="1.2"/>
<line x1="194.2" y1="635.5" x2="197.0" y2="635.5" stroke="#231f20" stroke-width="1"/>
<line x1="194.2" y1="608.9" x2="197.0" y2="608.9" stroke="#231f20" stroke-width="1"/>
<line x1="194.2" y1="582.3" x2="197.0" y2="582.3" stroke="#231f20" stroke-width="1"/>
<line x1="194.2" y1="555.7" x2="197.0" y2="555.7" stroke="#231f20" stroke-width="1"/>
<line x1="194.2" y1="529.1" x2="197.0" y2="529.1" stroke="#231f20" stroke-width="1"/>
<line x1="249.25" y1="635.5" x2="249.25" y2="638.5" stroke="#231f20" stroke-width="1"/>
<text x="249.25" y="517" font-size="9.8" text-anchor="middle" font-weight="bold" fill="#3ab54a">263</text>
<text x="249.25" y="647.5" font-size="8.2" text-anchor="middle" fill="#3a3a3a" stroke="#3a3a3a" stroke-width="0.08" textLength="50.5" lengthAdjust="spacingAndGlyphs">255 Id protein</text>
<line x1="215" y1="594.75" x2="241.25" y2="594.75" stroke="#4a4a4a" stroke-width="1.25"/>
<text x="213.75" y="590.5" font-size="7.6" font-style="italic" fill="#333" stroke="#333" stroke-width="0.05">p = 0.04</text>
<line x1="265" y1="580.5" x2="292" y2="580.5" stroke="#4a4a4a" stroke-width="1.25"/>
<text x="260" y="576.25" font-size="7.6" font-style="italic" fill="#333" stroke="#333" stroke-width="0.05">p = 0.0001</text>
<rect x="337" y="629.5" width="16.75" height="6.0" fill="#f68b1f"/>
<path d="M337.4,635.5 V629.9 H353.35 V635.5" fill="none" stroke="#c97119" stroke-width="0.8"/>
<line x1="345.375" y1="629" x2="345.375" y2="629.5" stroke="#f68b1f" stroke-width="1"/>
<line x1="341.075" y1="629" x2="349.675" y2="629" stroke="#f68b1f" stroke-width="1"/>
<rect x="362.25" y="631.5" width="16.5" height="4.0" fill="#154d85"/>
<path d="M362.65,635.5 V631.9 H378.35 V635.5" fill="none" stroke="#113f6d" stroke-width="0.8"/>
<line x1="370.5" y1="630" x2="370.5" y2="631.5" stroke="#154d85" stroke-width="1"/>
<line x1="366.2" y1="630" x2="374.8" y2="630" stroke="#154d85" stroke-width="1"/>
<rect x="387.5" y="625" width="16.75" height="10.5" fill="#0d6b50"/>
<path d="M387.9,635.5 V625.4 H403.85 V635.5" fill="none" stroke="#0a5741" stroke-width="0.8"/>
<line x1="395.875" y1="623" x2="395.875" y2="625" stroke="#0d6b50" stroke-width="1"/>
<line x1="391.575" y1="623" x2="400.175" y2="623" stroke="#0d6b50" stroke-width="1"/>
<rect x="413.25" y="632.5" width="16.25" height="3.0" fill="#8a82c3"/>
<path d="M413.65,635.5 V632.9 H429.1 V635.5" fill="none" stroke="#716a9f" stroke-width="0.8"/>
<line x1="421.375" y1="630" x2="421.375" y2="632.5" stroke="#8a82c3" stroke-width="1"/>
<line x1="417.075" y1="630" x2="425.675" y2="630" stroke="#8a82c3" stroke-width="1"/>
<line x1="328.5" y1="528.25" x2="328.5" y2="636.1" stroke="#231f20" stroke-width="1.3"/>
<line x1="327.9" y1="635.5" x2="438" y2="635.5" stroke="#231f20" stroke-width="1.2"/>
<line x1="325.7" y1="635.5" x2="328.5" y2="635.5" stroke="#231f20" stroke-width="1"/>
<line x1="325.7" y1="608.9" x2="328.5" y2="608.9" stroke="#231f20" stroke-width="1"/>
<line x1="325.7" y1="582.3" x2="328.5" y2="582.3" stroke="#231f20" stroke-width="1"/>
<line x1="325.7" y1="555.7" x2="328.5" y2="555.7" stroke="#231f20" stroke-width="1"/>
<line x1="325.7" y1="529.1" x2="328.5" y2="529.1" stroke="#231f20" stroke-width="1"/>
<line x1="383.25" y1="635.5" x2="383.25" y2="638.5" stroke="#231f20" stroke-width="1"/>
<text x="380.5" y="517" font-size="9.8" text-anchor="middle" font-weight="bold" fill="#f68b1f">261</text>
<text x="382.5" y="647.5" font-size="8.2" text-anchor="middle" fill="#3a3a3a" stroke="#3a3a3a" stroke-width="0.08" textLength="50.5" lengthAdjust="spacingAndGlyphs">261 Id protein</text>
<line x1="349.25" y1="602.75" x2="420.5" y2="602.75" stroke="#4a4a4a" stroke-width="1.25"/>
<text x="368.75" y="599.5" font-size="7.6" font-style="italic" fill="#333" stroke="#333" stroke-width="0.05">p = 0.069</text>
<line x1="349.25" y1="615" x2="375.5" y2="615" stroke="#4a4a4a" stroke-width="1.25"/>
<text x="344.25" y="611.75" font-size="7.6" font-style="italic" fill="#333" stroke="#333" stroke-width="0.05">p = 0.0072</text>
<line x1="394.25" y1="618.75" x2="420" y2="618.75" stroke="#4a4a4a" stroke-width="1.25"/>
<text x="389.25" y="615.5" font-size="7.6" font-style="italic" fill="#333" stroke="#333" stroke-width="0.05">p = 0.0066</text>
<rect x="449.8" y="572.1" width="12.9" height="6.5" fill="#c8102e"/>
<text x="466.2" y="578.1" font-size="7.7" fill="#3a3a3a" stroke="#3a3a3a" stroke-width="0.08">255 Id protein</text>
<rect x="449.8" y="583.2" width="12.9" height="6.5" fill="#154d85"/>
<text x="466.2" y="589.2" font-size="7.7" fill="#3a3a3a" stroke="#3a3a3a" stroke-width="0.08">256 Id protein</text>
<rect x="449.8" y="594.3" width="12.9" height="6.5" fill="#3ab54a"/>
<text x="466.2" y="600.3" font-size="7.7" fill="#3a3a3a" stroke="#3a3a3a" stroke-width="0.08">263 Id protein</text>
<rect x="449.8" y="605.4" width="12.9" height="6.5" fill="#f68b1f"/>
<text x="466.2" y="611.4" font-size="7.7" fill="#3a3a3a" stroke="#3a3a3a" stroke-width="0.08">261 Id protein</text>
<rect x="449.8" y="616.5" width="12.9" height="6.5" fill="#0d6b50"/>
<text x="466.2" y="622.5" font-size="7.7" fill="#3a3a3a" stroke="#3a3a3a" stroke-width="0.08">KLH protein</text>
<rect x="449.8" y="627.6" width="12.9" height="6.5" fill="#8a82c3"/>
<text x="466.2" y="633.6" font-size="7.7" fill="#3a3a3a" stroke="#3a3a3a" stroke-width="0.08">No antigen</text>
</svg>
</body></html>
